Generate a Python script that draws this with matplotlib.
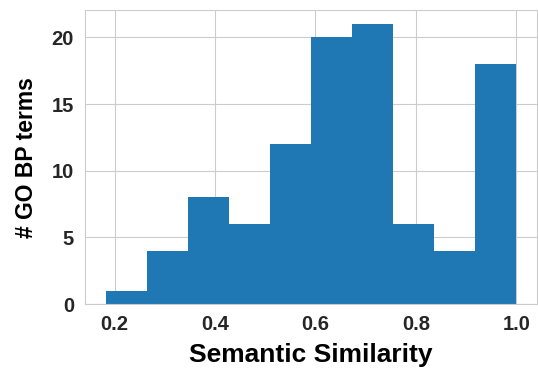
import matplotlib
matplotlib.use("Agg")
import matplotlib.pyplot as plt
import seaborn as sns
import numpy as np

bin_edges = [0.182, 0.2638, 0.3456, 0.4274, 0.5092, 0.591, 0.6728, 0.7546, 0.8364, 0.9182, 1.0]
counts = [1, 4, 8, 6, 12, 20, 21, 6, 4, 18]

sns.set_style("whitegrid")
plt.rcParams['font.family'] = ['Liberation Sans', 'DejaVu Sans']
plt.rcParams['font.weight'] = 'bold'

fig = plt.figure(figsize=(5.38, 3.70), dpi=100)
ax = fig.add_axes([0.158, 0.178, 0.84, 0.795])
ax.hist(bin_edges[:-1], bins=bin_edges, weights=counts, color='#1f77b4',
        edgecolor='none', linewidth=0)
ax.set_xticks([0.2, 0.4, 0.6, 0.8, 1.0])
ax.set_yticks([0, 5, 10, 15, 20])
ax.tick_params(axis='both', labelsize=14.5, colors='.15', pad=4.5)
for lab in ax.get_xticklabels() + ax.get_yticklabels():
    lab.set_fontweight('bold')
ax.set_xlabel('Semantic Similarity', fontsize=19, fontweight='bold', color='black', labelpad=6)
ax.set_ylabel('# GO BP terms', fontsize=16.5, fontweight='bold', color='black', labelpad=10)
fig.savefig('out.png', dpi=100)
